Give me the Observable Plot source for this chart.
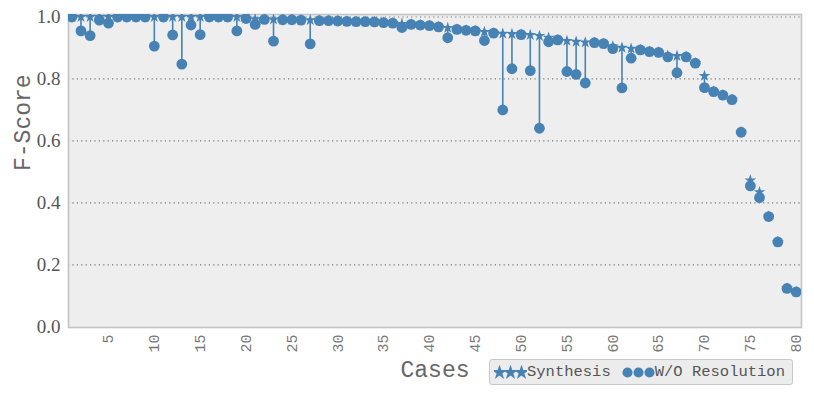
<!DOCTYPE html>
<html>
<head>
<meta charset="utf-8">
<script src="https://cdn.jsdelivr.net/npm/d3@7"></script>
<script src="https://cdn.jsdelivr.net/npm/@observablehq/plot@0.6"></script>
<style>
  html, body { margin: 0; padding: 0; background: #fff; }
  #wrap { position: relative; width: 814px; height: 395px; }
  #legend {
    position: absolute; left: 489px; top: 359px; width: 304px; height: 26px;
    box-sizing: border-box; border: 1px solid #c8c8c8; border-radius: 3px;
    background: #ececec; font-family: "Liberation Mono", monospace; font-size: 15.5px;
    color: #555; display: flex; align-items: center; padding-left: 4px; white-space: nowrap;
  }
  #legend svg { display: inline-block; vertical-align: middle; }
  g[aria-label="y-axis tick label"] text { font-family: "Liberation Serif", serif; }
</style>
</head>
<body>
<div id="wrap"></div>
<script>
const cases = d3.range(1, 81);
const xTicks = [5, 10, 15, 20, 25, 30, 35, 40, 45, 50, 55, 60, 65, 70, 75, 80];
const yTicks = [0.0, 0.2, 0.4, 0.6, 0.8, 1.0];
const seriesNames = ["Synthesis", "W/O Resolution"];

const synthesis = [
  1.0, 1.0, 1.0, 1.0, 1.0, 1.0, 1.0, 1.0, 1.0, 1.0,
  1.0, 1.0, 1.0, 1.0, 1.0, 1.0, 1.0, 1.0, 1.0, 0.995,
  0.993, 0.992, 0.992, 0.991, 0.991, 0.99, 0.99, 0.988, 0.988, 0.987,
  0.986, 0.985, 0.985, 0.984, 0.982, 0.98, 0.978, 0.976, 0.974, 0.972,
  0.968, 0.965, 0.96, 0.957, 0.955, 0.952, 0.948, 0.946, 0.945, 0.943,
  0.942, 0.939, 0.933, 0.926, 0.923, 0.92, 0.918, 0.917, 0.914, 0.905,
  0.901, 0.898, 0.894, 0.888, 0.886, 0.875, 0.874, 0.871, 0.851, 0.81,
  0.759, 0.748, 0.733, 0.628, 0.473, 0.435, 0.356, 0.274, 0.124, 0.113
];

const woResolution = [
  1.0, 0.955, 0.94, 0.99, 0.98, 1.0, 1.0, 1.0, 1.0, 0.906,
  1.0, 0.942, 0.848, 0.974, 0.943, 1.0, 1.0, 1.0, 0.955, 0.995,
  0.976, 0.992, 0.922, 0.991, 0.991, 0.99, 0.913, 0.988, 0.988, 0.987,
  0.986, 0.985, 0.985, 0.984, 0.982, 0.98, 0.966, 0.976, 0.974, 0.972,
  0.968, 0.933, 0.96, 0.957, 0.955, 0.924, 0.948, 0.70, 0.833, 0.943,
  0.827, 0.641, 0.92, 0.926, 0.824, 0.815, 0.787, 0.917, 0.914, 0.898,
  0.771, 0.867, 0.894, 0.888, 0.886, 0.871, 0.82, 0.871, 0.851, 0.772,
  0.759, 0.748, 0.733, 0.628, 0.455, 0.417, 0.356, 0.274, 0.124, 0.113
];

const color = "#4682b4";
const data = cases.map((c, i) => ({case: c, s: synthesis[i], w: woResolution[i]}));
const diffs = data.filter(d => d.s !== d.w);

const chart = Plot.plot({
  width: 814,
  height: 395,
  marginLeft: 68,
  marginRight: 13,
  marginTop: 14,
  marginBottom: 68,
  style: {background: "#fff", overflow: "visible"},
  x: {domain: [0.64, 80.58], axis: null},
  y: {domain: [-0.002, 1.008], axis: null},
  marks: [
    Plot.frame({fill: "#eeeeee", stroke: "none"}),
    Plot.gridY(yTicks.filter(v => v > 0), {stroke: "#777", strokeOpacity: 1, strokeWidth: 1.2, strokeDasharray: "1.2,3.2"}),
    Plot.frame({stroke: "#c4c4c4", strokeWidth: 1.6}),
    Plot.axisY(yTicks, {
      tickSize: 0, tickPadding: 8, tickFormat: d3.format(".1f"),
      fontFamily: "Liberation Serif", fontSize: 19, fill: "#555", label: null
    }),
    Plot.axisX(xTicks, {
      tickSize: 0, tickPadding: 7, tickRotate: -90,
      fontFamily: "Liberation Mono", fontSize: 15, fill: "#777", label: null
    }),
    Plot.text(["Cases"], {frameAnchor: "bottom", dy: 49, fontFamily: "Liberation Mono", fontSize: 23, fill: "#666"}),
    Plot.text(["F-Score"], {frameAnchor: "left", dx: -46, rotate: -90, fontFamily: "Liberation Mono", fontSize: 23, fill: "#666"}),
    Plot.ruleX(diffs, {x: "case", y1: "s", y2: "w", stroke: color, strokeWidth: 1.6, clip: "frame"}),
    Plot.dot(data, {x: "case", y: "s", symbol: "star", r: 3.7, fill: color, stroke: "none", clip: "frame"}),
    Plot.dot(data, {x: "case", y: "w", symbol: "circle", r: 5.4, fill: color, stroke: "none", clip: "frame"})
  ]
});

const wrap = document.getElementById("wrap");
wrap.appendChild(chart);

// legend (built from series names)
const starPath = d3.symbol(d3.symbolStar, 70)();
const circPath = d3.symbol(d3.symbolCircle, 80)();
function triple(path) {
  return `<svg width="33" height="14" viewBox="0 0 33 14">` +
    [5.5, 16.5, 27.5].map(x => `<path transform="translate(${x},7.5)" d="${path}" fill="${color}"/>`).join("") +
    `</svg>`;
}
const legend = document.createElement("div");
legend.id = "legend";
legend.innerHTML = `${triple(starPath)}<span>${seriesNames[0]}</span><span style="display:inline-block;width:11px"></span>${triple(circPath)}<span>${seriesNames[1]}</span>`;
wrap.appendChild(legend);
</script>
</body>
</html>
